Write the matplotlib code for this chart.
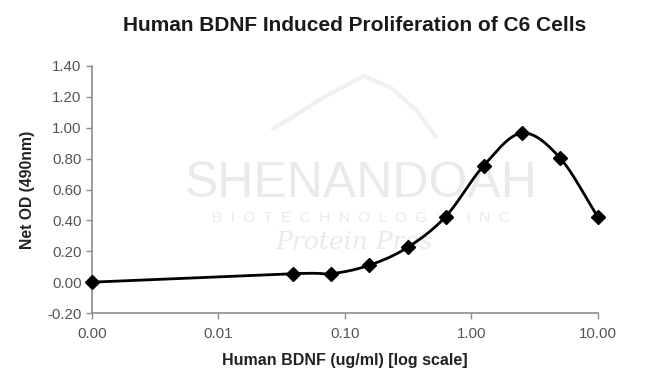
import numpy as np
import matplotlib
matplotlib.use("Agg")
import matplotlib.pyplot as plt

# Data (concentration 0 is plotted at the left edge, 0.001)
conc = [0.001, 0.039, 0.078, 0.156, 0.3125, 0.625, 1.25, 2.5, 5.0, 10.0]
net_od = [0.00, 0.055, 0.055, 0.11, 0.225, 0.425, 0.755, 0.965, 0.805, 0.42]
xticks = [0.001, 0.01, 0.1, 1, 10]
xtick_labels = ["0.00", "0.01", "0.10", "1.00", "10.00"]
yticks = [-0.20, 0.00, 0.20, 0.40, 0.60, 0.80, 1.00, 1.20, 1.40]

plt.rcParams['font.family'] = ['Liberation Sans', 'DejaVu Sans']

def catmull_rom(xs, ys, n=30):
    xs = np.asarray(xs, float); ys = np.asarray(ys, float)
    px = np.concatenate([[2*xs[0]-xs[1]], xs, [2*xs[-1]-xs[-2]]])
    py = np.concatenate([[2*ys[0]-ys[1]], ys, [2*ys[-1]-ys[-2]]])
    outx, outy = [], []
    for i in range(1, len(px)-2):
        t = np.linspace(0, 1, n)
        for arr, out in ((px, outx), (py, outy)):
            p0, p1, p2, p3 = arr[i-1], arr[i], arr[i+1], arr[i+2]
            out.extend(0.5*((2*p1) + (-p0+p2)*t + (2*p0-5*p1+4*p2-p3)*t**2 + (-p0+3*p1-3*p2+p3)*t**3))
    return np.array(outx), np.array(outy)

fig = plt.figure(figsize=(6.5, 3.79), dpi=100)
ax = fig.add_axes([0.1415, 0.174, 0.7785, 0.652])

# watermark (behind the data)
wm = '#eaeaea'
ax.text(0.555, 0.515, "SHENANDOAH", fontsize=36, color=wm, ha='center', va='center',
        transform=fig.transFigure, zorder=1)
ax.text(0.555, 0.425, "B  I  O  T  E  C  H  N  O  L  O  G  Y     I  N  C", fontsize=11, color=wm,
        ha='center', va='center', transform=fig.transFigure, zorder=1)
ax.text(0.545, 0.36, "Protein Pros", fontsize=18, color=wm, ha='center', va='center',
        style='italic', family='DejaVu Serif', transform=fig.transFigure, zorder=1)
ax.plot([0.42, 0.50, 0.56, 0.60, 0.64, 0.67], [0.66, 0.745, 0.80, 0.77, 0.71, 0.64],
        color='#f0f0f0', lw=3, transform=fig.transFigure, zorder=1, solid_capstyle='round')

lx = np.log10(conc)
sx, sy = catmull_rom(lx, net_od)
ax.plot(10**sx, sy, color='black', lw=2, zorder=3, clip_on=False)
ax.plot(conc, net_od, linestyle='none', marker='D', color='black', markersize=7, zorder=4, clip_on=False)

ax.set_xscale('log')
ax.set_xlim(0.001, 10)
ax.set_ylim(-0.2, 1.4)
ax.set_xticks(xticks)
ax.set_xticklabels(xtick_labels)
ax.minorticks_off()
ax.set_yticks(yticks)
ax.set_yticklabels([f"{v:.2f}" for v in yticks])

for s in ['top', 'right']:
    ax.spines[s].set_visible(False)
for s in ['left', 'bottom']:
    ax.spines[s].set_color('#8c8c8c')
    ax.spines[s].set_linewidth(1.2)
    ax.spines[s].set_zorder(2)
ax.tick_params(axis='both', colors='#8c8c8c', labelcolor='#555555', labelsize=10.8, length=4, width=1)
ax.tick_params(axis='x', pad=6)
ax.patch.set_alpha(0)

ax.set_xlabel("Human BDNF (ug/ml) [log scale]", fontsize=11.5, fontweight='bold', color='#222222', labelpad=9)
ax.set_ylabel("Net OD (490nm)", fontsize=11.3, fontweight='bold', color='#222222', labelpad=9)
fig.text(0.546, 0.933, "Human BDNF Induced Proliferation of C6 Cells", fontsize=15, fontweight='bold',
         ha='center', va='center', color='#1a1a1a')

fig.savefig("out.png", dpi=100)
